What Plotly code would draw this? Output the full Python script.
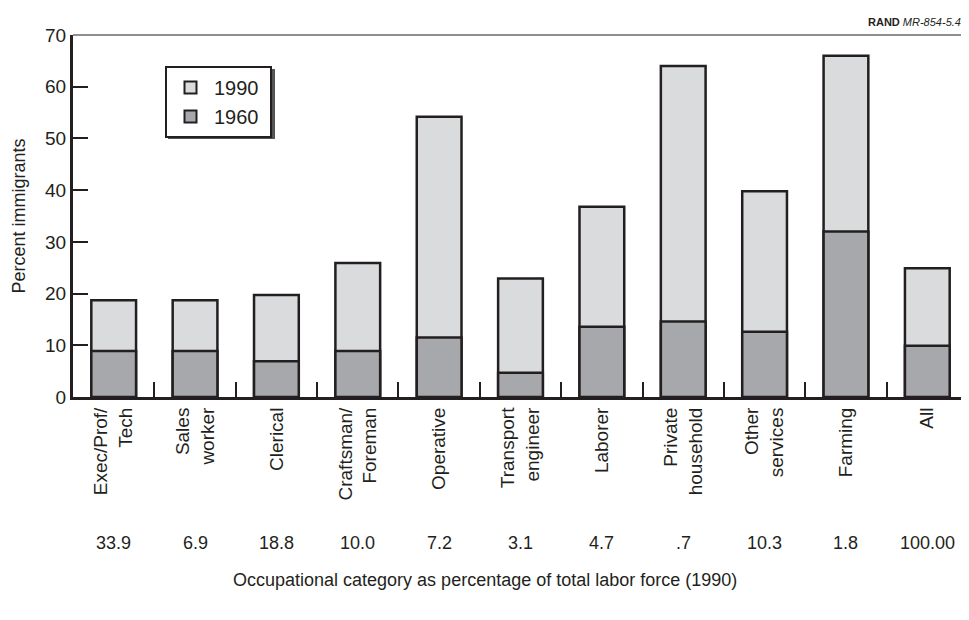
import plotly.graph_objects as go

categories = ["Exec/Prof/<br>Tech", "Sales<br>worker", "Clerical", "Craftsman/<br>Foreman",
              "Operative", "Transport<br>engineer", "Laborer", "Private<br>household",
              "Other<br>services", "Farming", "All"]
pct_1990 = [18.7, 18.7, 19.7, 25.9, 54.2, 22.9, 36.8, 64.0, 39.8, 66.0, 24.9]
pct_1960 = [8.9, 8.9, 6.9, 8.9, 11.5, 4.7, 13.6, 14.6, 12.6, 32.0, 9.9]
labor_share = ["33.9", "6.9", "18.8", "10.0", "7.2", "3.1", "4.7", ".7", "10.3", "1.8", "100.00"]
series_names = ["1990", "1960"]

INK = "#231f20"
FONT = "Liberation Sans, Arial, sans-serif"

# page body has an 8px margin; figure is sized so the plot area lands where the reference has it
W, H = 961, 612
ML, MR, MT, MB = 65, 1, 27, 223
PW = W - ML - MR
PH = H - MT - MB

fig = go.Figure()
fig.add_trace(go.Bar(x=categories, y=pct_1990, name=series_names[0] + "&nbsp;", width=0.55,
                     marker=dict(color="#dadbdd", line=dict(color=INK, width=2.5)), opacity=1))
fig.add_trace(go.Bar(x=categories, y=pct_1960, name=series_names[1] + "&nbsp;", width=0.55,
                     marker=dict(color="#a7a8ab", line=dict(color=INK, width=2.5)), opacity=1))

annotations = []
for c, s in zip(categories, labor_share):
    annotations.append(dict(x=c, xref="x", y=-0.403, yref="paper", text=s, showarrow=False,
                            font=dict(family=FONT, size=18, color=INK), yanchor="middle"))
annotations.append(dict(x=0.46, xref="paper", y=-0.505, yref="paper",
                        text="Occupational category as percentage of total labor force (1990)",
                        showarrow=False, font=dict(family=FONT, size=18, color=INK), yanchor="middle"))
annotations.append(dict(x=1, xref="paper", y=1.058, yref="paper", xanchor="right", xshift=-5,
                        text="<b>RAND</b> <i>MR-854-5.4</i>", showarrow=False,
                        font=dict(family=FONT, size=11, color=INK)))

# legend box position (paper coords) and its drop shadow
LX0, LY0 = (165 - 73) / PW, (397 - 66) / PH
LWID, LHGT = 107 / PW, 70 / PH
sx, sy = 3 / PW, 3 / PH

fig.update_layout(
    width=W, height=H,
    margin=dict(l=ML, r=MR, t=MT, b=MB),
    paper_bgcolor="white", plot_bgcolor="white",
    barmode="overlay",
    font=dict(family=FONT, size=18, color=INK),
    showlegend=True,
    legend=dict(x=LX0, y=LY0, xanchor="left", yanchor="top",
                bgcolor="white", bordercolor=INK, borderwidth=2,
                font=dict(family=FONT, size=20, color=INK),
                itemwidth=37,
                tracegroupgap=2, itemsizing="constant"),
    annotations=annotations,
    shapes=[
        dict(type="line", xref="paper", yref="paper", x0=0, x1=1, y0=1, y1=1,
             line=dict(color=INK, width=1.2)),
        dict(type="line", xref="paper", yref="paper", x0=1, x1=1, y0=0, y1=1,
             line=dict(color=INK, width=1.2)),
        dict(type="rect", xref="paper", yref="paper",
             x0=LX0 + sx, x1=LX0 + LWID + sx, y0=LY0 - LHGT - sy, y1=LY0 - sy,
             line=dict(width=0), fillcolor="#555555", layer="above"),
    ],
)
fig.update_xaxes(type="category", showline=True, linewidth=3, linecolor=INK,
                 ticks="inside", tickson="boundaries", ticklen=15, tickwidth=1.5, tickcolor=INK,
                 tickangle=-90, tickfont=dict(family=FONT, size=19, color=INK),
                 showgrid=False, zeroline=False)
fig.update_yaxes(range=[0, 70], dtick=10, showline=True, linewidth=3, linecolor=INK,
                 ticks="inside", ticklen=15, tickwidth=1.5, tickcolor=INK,
                 tickfont=dict(family=FONT, size=19, color=INK),
                 title=dict(text="Percent immigrants", font=dict(family=FONT, size=18, color=INK),
                            standoff=15),
                 showgrid=False, zeroline=False)

fig.write_html("out.html")
